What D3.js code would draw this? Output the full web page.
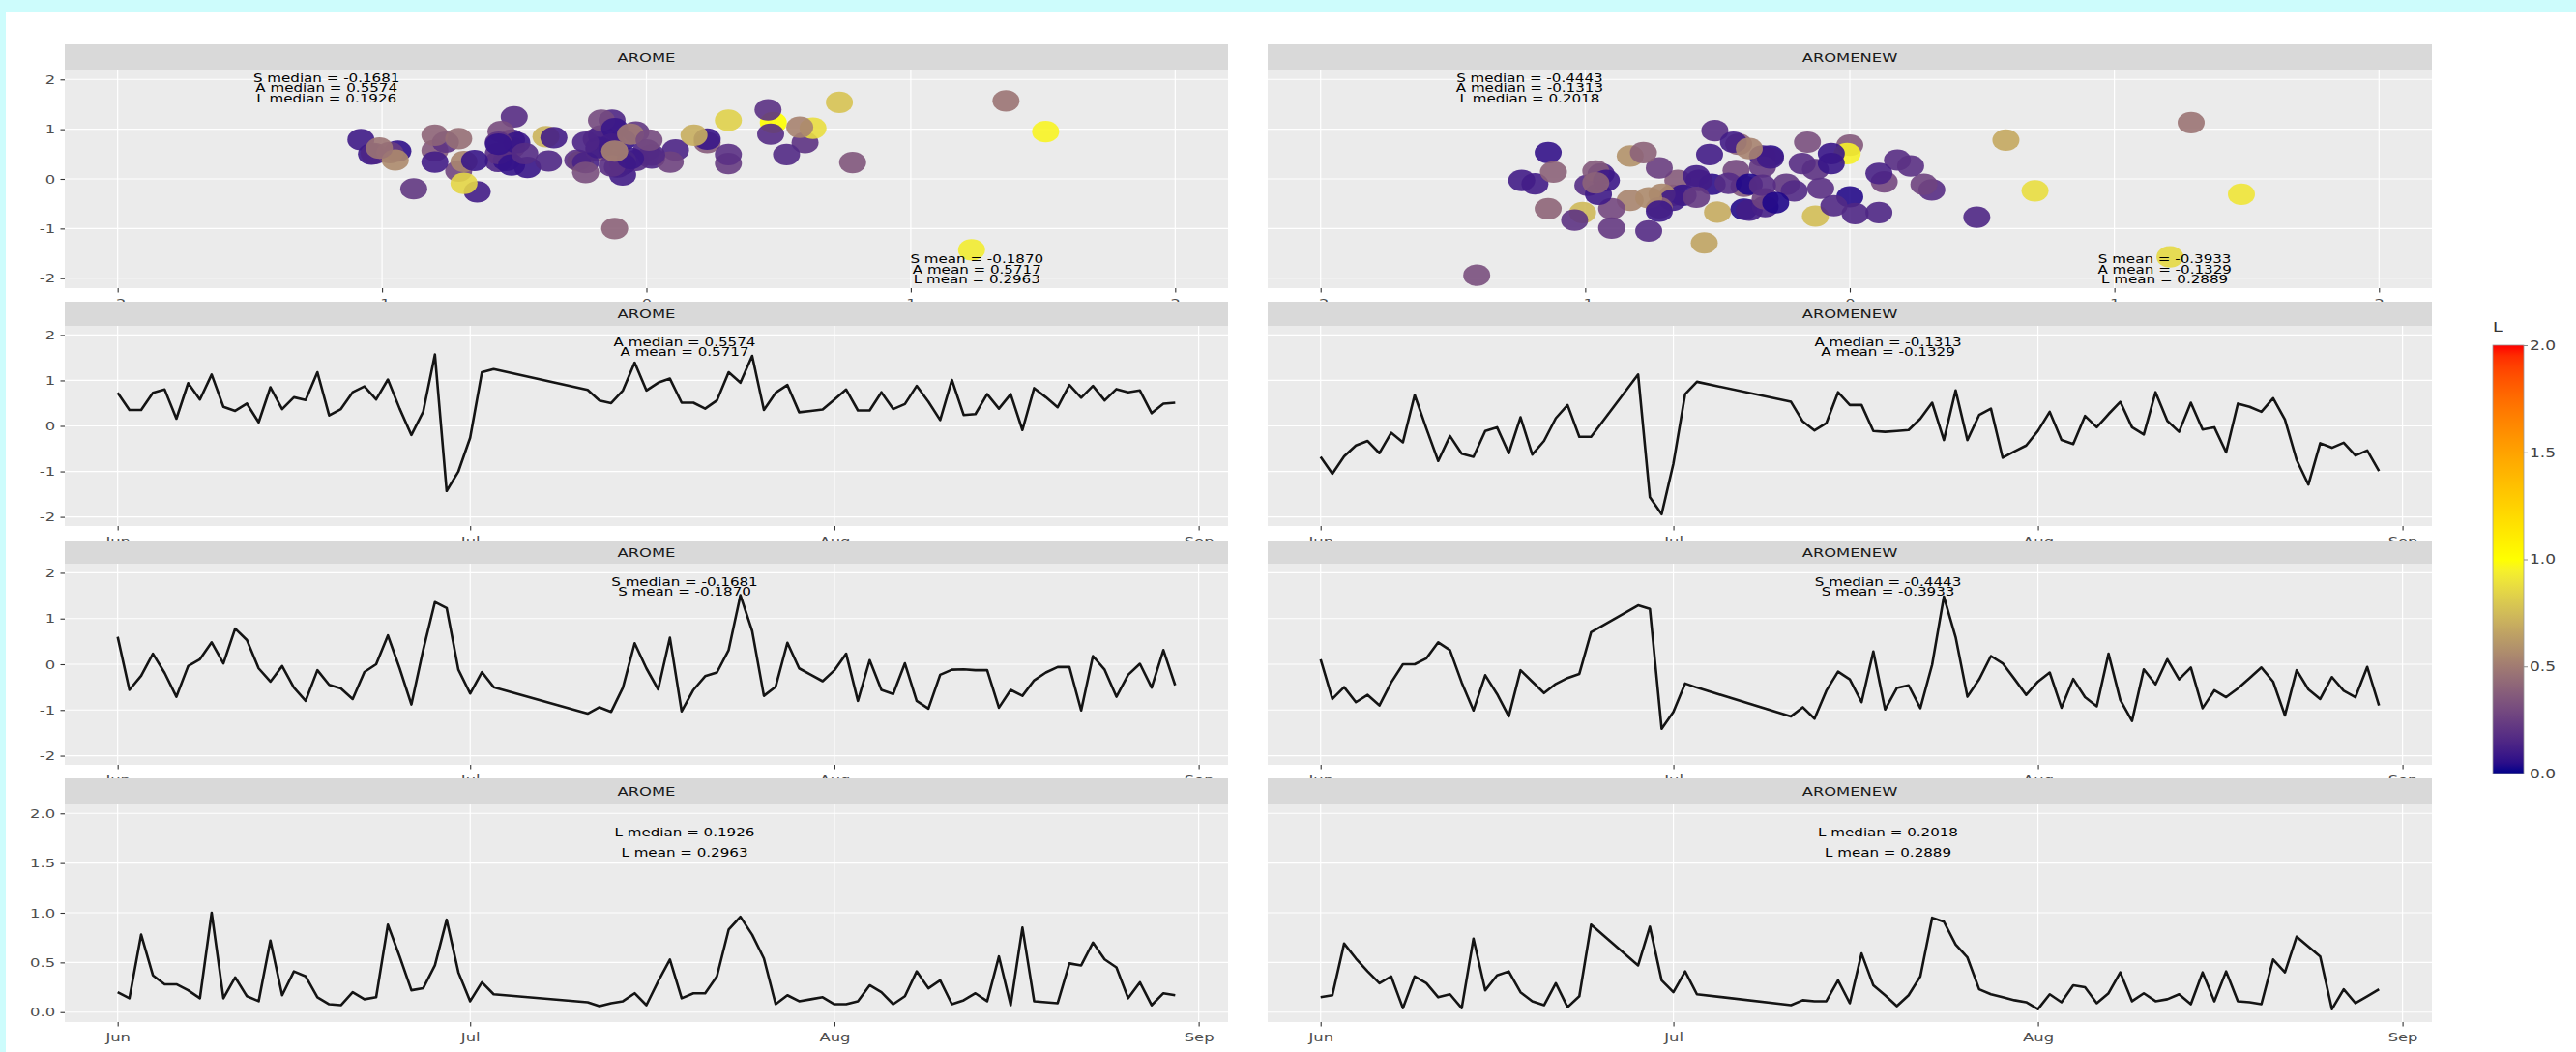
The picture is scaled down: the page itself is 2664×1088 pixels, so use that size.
<!DOCTYPE html>
<html>
<head>
<meta charset="utf-8">
<script src="https://cdn.jsdelivr.net/npm/d3@7"></script>
<style>
  html, body { margin: 0; padding: 0; background: #ffffff; }
  svg { display: block; }
</style>
</head>
<body>
<svg id="chart" width="2664" height="1088"></svg>
<script>
// ---------------------------------------------------------------------------
// Data: daily scores S, A and L for the two forecast models (summer 2017)
// ---------------------------------------------------------------------------
const models = ["AROME", "AROMENEW"];

// observed days (inclusive spans); the gaps are days without data
const daySpansAROME = [["2017-06-01", "2017-07-03"], ["2017-07-11", "2017-08-30"]];
const daySpansAROMENEW = [["2017-06-01", "2017-06-24"], ["2017-06-28", "2017-07-03"], ["2017-07-11", "2017-08-30"]];

const sAROME = [
  0.60, -0.56, -0.25, 0.23, -0.19, -0.71, -0.04, 0.11, 0.48, 0.02, 0.78, 0.53, -0.09, -0.38, -0.04,
  -0.51, -0.80, -0.13, -0.45, -0.53, -0.76, -0.17, 0.00, 0.63, -0.09, -0.88, 0.31, 1.36, 1.23, -0.12,
  -0.64, -0.17, -0.50,
  -1.08, -0.94, -1.04, -0.51, 0.46, -0.09, -0.55, 0.58, -1.03, -0.56, -0.26, -0.18, 0.31, 1.51, 0.73,
  -0.69, -0.49, 0.47, -0.09, -0.23, -0.37,
  -0.13, 0.23, -0.80, 0.09, -0.56, -0.65, 0.02, -0.80, -0.97, -0.23, -0.12, -0.11, -0.13, -0.13, -0.95,
  -0.56, -0.69, -0.35, -0.18, -0.06, -0.06, -1.01, 0.18, -0.12, -0.71, -0.23, 0.01, -0.51, 0.31, -0.46
];
const aAROME = [
  0.73, 0.35, 0.35, 0.73, 0.80, 0.16, 0.94, 0.58, 1.13, 0.42, 0.33, 0.49, 0.08, 0.85, 0.37,
  0.63, 0.57, 1.18, 0.23, 0.37, 0.74, 0.87, 0.58, 1.02, 0.38, -0.20, 0.31, 1.57, -1.43, -1.00,
  -0.26, 1.18, 1.25,
  0.79, 0.56, 0.50, 0.78, 1.39, 0.78, 0.95, 1.04, 0.51, 0.51, 0.38, 0.56, 1.18, 0.95, 1.54,
  0.35, 0.73, 0.90, 0.30, 0.33, 0.36,
  0.58, 0.80, 0.34, 0.34, 0.74, 0.37, 0.48, 0.88, 0.53, 0.13, 1.01, 0.24, 0.26, 0.70, 0.38,
  0.70, -0.09, 0.83, 0.63, 0.41, 0.90, 0.62, 0.88, 0.56, 0.81, 0.74, 0.78, 0.28, 0.49, 0.51
];
const lAROME = [
  0.20, 0.14, 0.78, 0.37, 0.28, 0.28, 0.22, 0.14, 1.00, 0.14, 0.35, 0.16, 0.11, 0.72, 0.17,
  0.41, 0.36, 0.15, 0.08, 0.07, 0.20, 0.13, 0.15, 0.88, 0.56, 0.22, 0.24, 0.47, 0.93, 0.40,
  0.11, 0.30, 0.18,
  0.10, 0.06, 0.09, 0.11, 0.19, 0.07, 0.31, 0.53, 0.14, 0.19, 0.19, 0.36, 0.83, 0.96, 0.78,
  0.54, 0.08, 0.17, 0.11, 0.13, 0.15,
  0.08, 0.08, 0.11, 0.27, 0.20, 0.08, 0.16, 0.41, 0.24, 0.32, 0.08, 0.12, 0.19, 0.11, 0.56,
  0.07, 0.85, 0.11, 0.10, 0.09, 0.49, 0.47, 0.70, 0.53, 0.45, 0.14, 0.30, 0.07, 0.19, 0.17
];

const sAROMENEW = [
  0.11, -0.76, -0.50, -0.83, -0.67, -0.90, -0.40, 0.00, 0.00, 0.13, 0.48, 0.31, -0.40, -1.01, -0.24,
  -0.65, -1.14, -0.13, -0.38, -0.63, -0.43, -0.30, -0.21, 0.70,
  1.29, 1.21, -1.41,
  -1.04, -0.42, -0.51,
  -1.14, -0.94, -1.19, -0.58, -0.16, -0.33, -0.83, 0.28, -0.99, -0.52, -0.46, -0.96, -0.01, 1.48, 0.59,
  -0.71, -0.33, 0.18, 0.02, -0.32, -0.67,
  -0.38, -0.18, -0.95, -0.32, -0.72, -0.92, 0.23, -0.78, -1.24, -0.11, -0.44, 0.11, -0.33, -0.07, -0.96,
  -0.57, -0.72, -0.53, -0.30, -0.07, -0.38, -1.12, -0.13, -0.55, -0.76, -0.28, -0.58, -0.72, -0.06, -0.90
];
const aAROMENEW = [
  -0.68, -1.05, -0.67, -0.43, -0.33, -0.60, -0.15, -0.36, 0.68, -0.06, -0.77, -0.22, -0.61, -0.68, -0.11,
  -0.03, -0.60, 0.19, -0.63, -0.33, 0.17, 0.46, -0.24, -0.24,
  1.13, -1.57, -1.94,
  -0.83, 0.70, 0.97,
  0.53, 0.10, -0.10, 0.06, 0.74, 0.46, 0.46, -0.11, -0.13, -0.11, -0.09, 0.16, 0.51, -0.31, 0.78,
  -0.31, 0.24, 0.38, -0.70, -0.56, -0.43,
  -0.11, 0.31, -0.31, -0.40, 0.22, -0.03, 0.26, 0.53, -0.03, -0.19, 0.74, 0.11, -0.13, 0.51, -0.08,
  -0.03, -0.58, 0.49, 0.42, 0.31, 0.61, 0.14, -0.75, -1.29, -0.38, -0.48, -0.37, -0.65, -0.54, -0.99
];
const lAROMENEW = [
  0.15, 0.17, 0.69, 0.54, 0.41, 0.29, 0.36, 0.04, 0.36, 0.29, 0.15, 0.18, 0.04, 0.74, 0.22,
  0.37, 0.41, 0.20, 0.11, 0.07, 0.29, 0.05, 0.16, 0.88,
  0.47, 0.86, 0.32,
  0.20, 0.41, 0.18,
  0.07, 0.12, 0.11, 0.11, 0.32, 0.09, 0.59, 0.27, 0.17, 0.06, 0.17, 0.36, 0.95, 0.91, 0.68,
  0.55, 0.23, 0.18, 0.15, 0.12, 0.10,
  0.03, 0.18, 0.10, 0.27, 0.25, 0.09, 0.19, 0.40, 0.11, 0.19, 0.11, 0.13, 0.18, 0.08, 0.40,
  0.11, 0.41, 0.11, 0.10, 0.08, 0.53, 0.40, 0.76, 0.66, 0.56, 0.03, 0.23, 0.09, 0.16, 0.23
];

// summary statistics, in the order S, A, L
const medianAROME = [-0.1681, 0.5574, 0.1926];
const meanAROME = [-0.1870, 0.5717, 0.2963];
const medianAROMENEW = [-0.4443, -0.1313, 0.2018];
const meanAROMENEW = [-0.3933, -0.1329, 0.2889];

// axis ticks
const scoreTicks = [-2, -1, 0, 1, 2];
const lTicks = [0, 0.5, 1, 1.5, 2];
const monthTicks = ["2017-06-01", "2017-07-01", "2017-08-01", "2017-09-01"];
const legendTicks = [0, 0.5, 1, 1.5, 2];

// ---------------------------------------------------------------------------
// Layout
// ---------------------------------------------------------------------------
const FONT = "DejaVu Sans";
const SX = 1.26;                         // horizontal glyph stretch
const cols = [{ x0: 67, x1: 1270 }, { x0: 1311, x1: 2515 }];
const rows = [
  { strip: [46, 72], panel: [72, 298] },
  { strip: [312, 337], panel: [337, 544] },
  { strip: [559, 583], panel: [583, 791] },
  { strip: [805, 831], panel: [831, 1057] }
];

const parseDay = d3.utcParse("%Y-%m-%d");
const loc = d3.formatLocale({ decimal: ".", thousands: ",", grouping: [3], currency: ["", ""], minus: "-" });
const f4 = loc.format(".4f");
const fInt = loc.format("d");
const f1 = loc.format(".1f");

function expandDays(spans) {
  return spans.flatMap(([a, b]) => d3.utcDays(parseDay(a), d3.utcDay.offset(parseDay(b), 1)));
}

const series = {
  AROME: { days: expandDays(daySpansAROME), S: sAROME, A: aAROME, L: lAROME, med: medianAROME, mean: meanAROME },
  AROMENEW: { days: expandDays(daySpansAROMENEW), S: sAROMENEW, A: aAROMENEW, L: lAROMENEW, med: medianAROMENEW, mean: meanAROMENEW }
};
for (const m of models) {
  const s = series[m];
  s.rows = s.days.map((d, i) => ({ date: d, S: s.S[i], A: s.A[i], L: s.L[i] }));
}

const dateDomain = [
  d3.utcHour.offset(parseDay("2017-06-01"), -108),
  d3.utcHour.offset(parseDay("2017-08-30"), 108)
];

const colour = d3.scaleLinear()
  .domain([0, 1, 2])
  .range(["#00008b", "#ffff00", "#ff0000"])
  .interpolate(d3.interpolateLab)
  .clamp(true);

const svg = d3.select("#chart");

// page frame
svg.append("rect").attr("x", 0).attr("y", 0).attr("width", 2664).attr("height", 1088).attr("fill", "#ffffff");
svg.append("rect").attr("x", 0).attr("y", 0).attr("width", 2664).attr("height", 12).attr("fill", "#cdfcfc");
svg.append("rect").attr("x", 0).attr("y", 0).attr("width", 6).attr("height", 1088).attr("fill", "#cdfcfc");

function label(g, x, y, str, opts = {}) {
  return g.append("text")
    .attr("transform", `translate(${x},${y}) scale(${SX},1)`)
    .attr("text-anchor", opts.anchor || "middle")
    .attr("font-family", FONT)
    .attr("font-size", opts.size || 12)
    .attr("fill", opts.fill || "#000")
    .text(str);
}

function styleAxis(g, size) {
  g.select(".domain").remove();
  g.selectAll(".tick line").attr("stroke", "#333333").attr("stroke-width", 1.1);
  g.selectAll(".tick text")
    .attr("font-family", FONT)
    .attr("font-size", size)
    .attr("fill", "#4d4d4d")
    .attr("transform", `scale(${SX},1)`);
}

function drawFrame(rowIdx, colIdx, title, xScale, yScale, xTicks, yTicks, yFormat, xFormat) {
  const r = rows[rowIdx], c = cols[colIdx];
  const g = svg.append("g");
  // strip
  g.append("rect").attr("x", c.x0).attr("y", r.strip[0])
    .attr("width", c.x1 - c.x0).attr("height", r.strip[1] - r.strip[0]).attr("fill", "#d9d9d9");
  label(g, (c.x0 + c.x1) / 2, (r.strip[0] + r.strip[1]) / 2 + 4.7, title, { size: 13, fill: "#1a1a1a" });
  // panel
  g.append("rect").attr("x", c.x0).attr("y", r.panel[0])
    .attr("width", c.x1 - c.x0).attr("height", r.panel[1] - r.panel[0]).attr("fill", "#ebebeb");
  g.append("g").selectAll("line").data(yTicks).join("line")
    .attr("x1", c.x0).attr("x2", c.x1)
    .attr("y1", d => yScale(d)).attr("y2", d => yScale(d))
    .attr("stroke", "#ffffff").attr("stroke-width", 1.2);
  g.append("g").selectAll("line").data(xTicks).join("line")
    .attr("y1", r.panel[0]).attr("y2", r.panel[1])
    .attr("x1", d => xScale(d)).attr("x2", d => xScale(d))
    .attr("stroke", "#ffffff").attr("stroke-width", 1.2);
  // axes
  const xa = g.append("g").attr("transform", `translate(0,${r.panel[1]})`)
    .call(d3.axisBottom(xScale).tickValues(xTicks).tickFormat(xFormat).tickSize(4.5).tickPadding(6.3));
  styleAxis(xa, 13);
  if (colIdx === 0) {
    const ya = g.append("g").attr("transform", `translate(${c.x0},0)`)
      .call(d3.axisLeft(yScale).tickValues(yTicks).tickFormat(yFormat).tickSize(4.5).tickPadding(3.4));
    styleAxis(ya, 13);
  }
  return g;
}

const lineTitles = ["A", "S", "L"];

rows.forEach((r, ri) => {
  models.forEach((m, ci) => {
    const c = cols[ci];
    const s = series[m];
    if (ri === 0) {
      // scatter of S against A, coloured by L
      const x = d3.scaleLinear().domain([-2.2, 2.2]).range([c.x0, c.x1]);
      const y = d3.scaleLinear().domain([-2.2, 2.2]).range([r.panel[1], r.panel[0]]);
      const g = drawFrame(ri, ci, m, x, y, scoreTicks, scoreTicks, fInt, fInt);
      g.append("g").selectAll("ellipse").data(s.rows).join("ellipse")
        .attr("cx", d => x(d.S)).attr("cy", d => y(d.A))
        .attr("rx", 11.1 * SX).attr("ry", 11.1)
        .attr("fill", d => colour(d.L))
        .attr("fill-opacity", 0.9);
      const names = ["S", "A", "L"];
      const topX = x(-1.21), topY = y(1.95);
      names.forEach((n, k) => label(g, topX, topY + k * 10.5, `${n} median = ${f4(s.med[k])}`, { size: 12 }));
      const botX = x(ci === 0 ? 1.25 : 1.19), botY = y(-1.7);
      names.forEach((n, k) => label(g, botX, botY + k * 10.5, `${n} mean = ${f4(s.mean[k])}`, { size: 12 }));
    } else {
      const key = lineTitles[ri - 1];
      const idx = { S: 0, A: 1, L: 2 }[key];
      const x = d3.scaleUtc().domain(dateDomain).range([c.x0, c.x1]);
      const y = key === "L"
        ? d3.scaleLinear().domain([-0.1, 2.1]).range([r.panel[1], r.panel[0]])
        : d3.scaleLinear().domain([-2.2, 2.2]).range([r.panel[1], r.panel[0]]);
      const yT = key === "L" ? lTicks : scoreTicks;
      const g = drawFrame(ri, ci, m, x, y, monthTicks.map(parseDay), yT,
        key === "L" ? f1 : fInt, d3.utcFormat("%b"));
      const line = d3.line().x(d => x(d.date)).y(d => y(d[key]));
      g.append("path").datum(s.rows)
        .attr("d", line)
        .attr("fill", "none")
        .attr("stroke", "#141414")
        .attr("stroke-width", 2.6)
        .attr("stroke-linejoin", "round");
      const ax = x(d3.utcHour.offset(parseDay("2017-07-19"), 6));
      if (key === "L") {
        label(g, ax, y(1.77), `L median = ${f4(s.med[idx])}`, { size: 12 });
        label(g, ax, y(1.565), `L mean = ${f4(s.mean[idx])}`, { size: 12 });
      } else {
        const by = key === "A" ? y(1.75) : y(1.71);
        label(g, ax, by, `${key} median = ${f4(s.med[idx])}`, { size: 12 });
        label(g, ax, by + 9.8, `${key} mean = ${f4(s.mean[idx])}`, { size: 12 });
      }
    }
  });
});

// ---------------------------------------------------------------------------
// Colour bar for L
// ---------------------------------------------------------------------------
const leg = svg.append("g");
const legY = d3.scaleLinear().domain([0, 2]).range([800, 357]);
const grad = svg.append("defs").append("linearGradient")
  .attr("id", "lgrad").attr("x1", 0).attr("y1", 1).attr("x2", 0).attr("y2", 0);
grad.selectAll("stop").data(d3.range(0, 2.0001, 0.05)).join("stop")
  .attr("offset", d => d / 2)
  .attr("stop-color", d => colour(d));
leg.append("rect").attr("x", 2578).attr("y", legY(2)).attr("width", 32)
  .attr("height", legY(0) - legY(2)).attr("fill", "url(#lgrad)")
  .attr("stroke", "#9a9a9a").attr("stroke-width", 0.8);
const la = leg.append("g").attr("transform", "translate(2610,0)")
  .call(d3.axisRight(legY).tickValues(legendTicks).tickFormat(f1).tickSize(4).tickPadding(0.8));
la.select(".domain").remove();
la.selectAll(".tick line").attr("stroke", "#8a8a8a");
la.selectAll(".tick text").attr("font-family", FONT).attr("font-size", 13.5)
  .attr("fill", "#444444").attr("transform", `scale(${SX},1)`);
label(leg, 2578, 343, "L", { anchor: "start", size: 14, fill: "#333333" });
</script>
</body>
</html>
